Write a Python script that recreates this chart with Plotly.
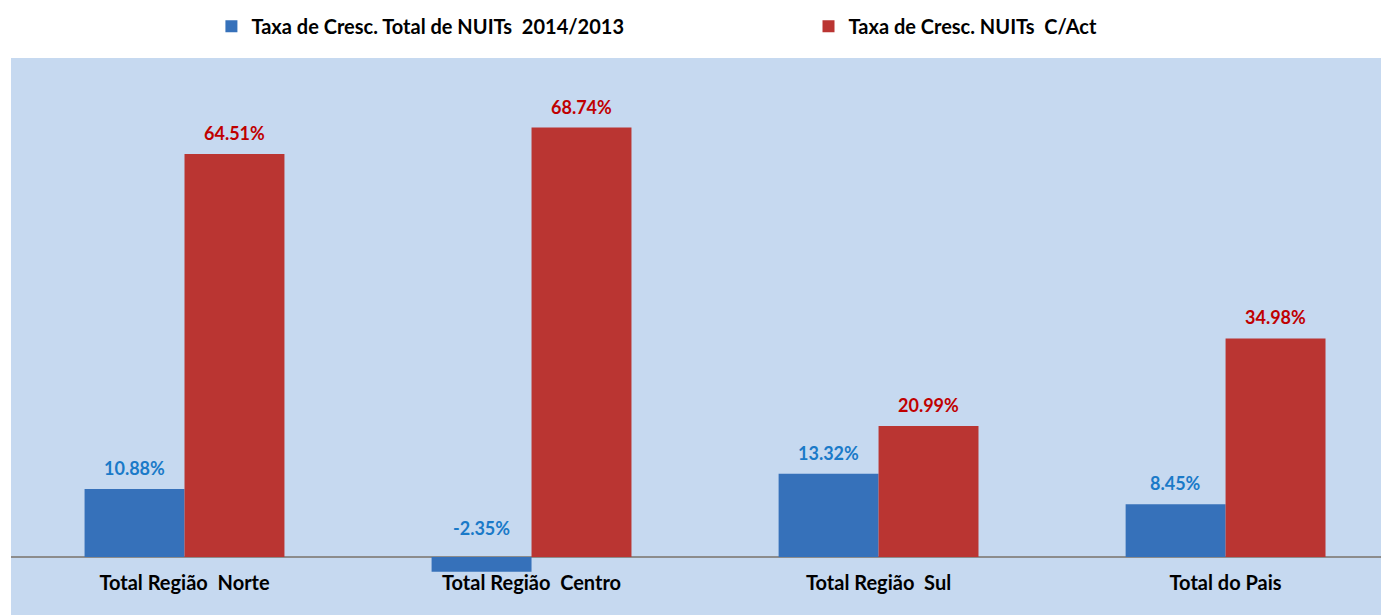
import plotly.graph_objects as go

categories = ["Total Região\u00a0 Norte", "Total Região\u00a0 Centro", "Total Região\u00a0 Sul", "Total do Pais"]
total_growth = [10.88, -2.35, 13.32, 8.45]
active_growth = [64.51, 68.74, 20.99, 34.98]
series_names = ["Taxa de Cresc. Total de NUITs\u00a0 2014/2013", "Taxa de Cresc. NUITs\u00a0 C/Act"]

BLUE = "#3671BA"
RED = "#BA3532"
BLUE_TXT = "#1A7AC8"
RED_TXT = "#C00000"
PANEL = "#C6D9F0"
FONT = "Lato, 'Open Sans', sans-serif"

fig = go.Figure()
fig.add_trace(go.Bar(x=categories, y=total_growth, name=series_names[0], legend="legend",
                     marker=dict(color=BLUE, line=dict(width=0))))
fig.add_trace(go.Bar(x=categories, y=active_growth, name=series_names[1], legend="legend2",
                     marker=dict(color=RED, line=dict(width=0))))

annotations = []
for i, c in enumerate(categories):
    for v, shift, col in ((total_growth[i], -50, BLUE_TXT), (active_growth[i], 50, RED_TXT)):
        annotations.append(dict(
            x=c, y=max(v, 0), xref="x", yref="y", xshift=shift,
            yshift=8 if v >= 0 else 16, yanchor="bottom", showarrow=False,
            text=f"{v:.2f}%", font=dict(family=FONT, size=18, color=col, weight="bold")))

legend_common = dict(orientation="h", xanchor="left", yanchor="top", y=1.099,
                     font=dict(family=FONT, size=20, color="black", weight="bold"),
                     itemwidth=30, bgcolor="rgba(0,0,0,0)")

fig.update_layout(
    width=1389, height=615,
    margin=dict(l=3, r=0, t=50, b=48, autoexpand=False),
    paper_bgcolor="white",
    plot_bgcolor=PANEL,
    barmode="group", bargap=0.424, bargroupgap=0,
    font=dict(family=FONT, size=17, color="black"),
    showlegend=True,
    legend=dict(x=0.1446, **legend_common),
    legend2=dict(x=0.5754, **legend_common),
    annotations=annotations,
    shapes=[dict(type="rect", xref="paper", yref="paper", x0=0, x1=1, y0=-0.2, y1=1,
                 fillcolor=PANEL, line=dict(width=0), layer="below")],
    xaxis=dict(range=[-0.5, 3.494], showgrid=False, showline=False, ticks="",
               ticklabelstandoff=-6,
               tickfont=dict(family=FONT, size=20, color="black", weight="bold")),
    yaxis=dict(range=[-2.88, 79.88], showgrid=False, showticklabels=False, showline=False,
               zeroline=True, zerolinecolor="#8C8C8C", zerolinewidth=1.5),
)

fig.write_html("out.html")
